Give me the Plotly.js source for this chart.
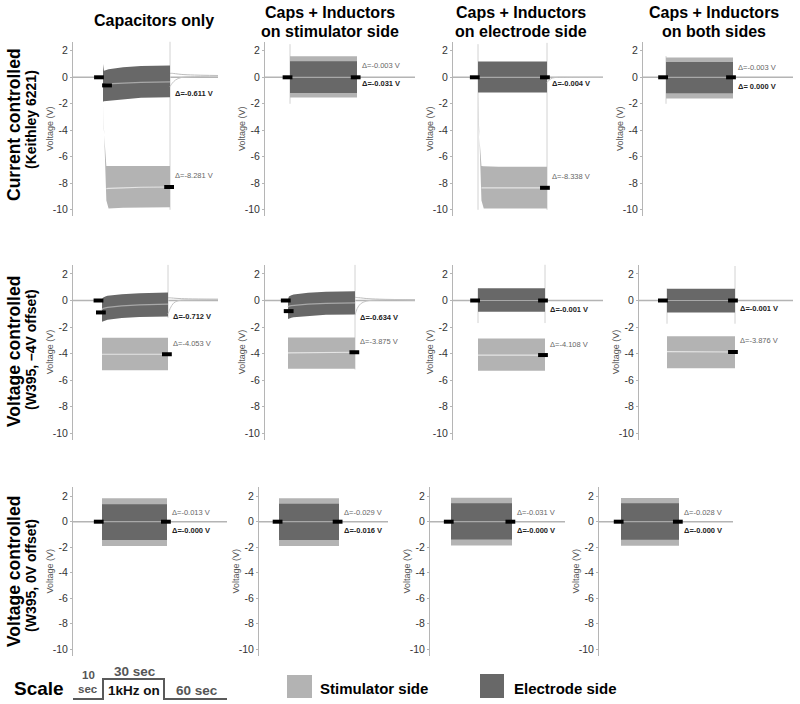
<!DOCTYPE html>
<html><head><meta charset="utf-8">
<script src="https://cdn.plot.ly/plotly-3.0.1.min.js"></script>
<style>html,body{margin:0;padding:0;background:#fff}#chart{width:800px;height:704px}</style>
</head><body><div id="chart"></div>
<script>
// ================= DATA =================
const colTitles = [["Capacitors only"], ["Caps + Inductors", "on stimulator side"], ["Caps + Inductors", "on electrode side"], ["Caps + Inductors", "on both sides"]];
const rowTitles = [["Current controlled", "(Keithley 6221)"], ["Voltage controlled", "(W395, \u20134V offset)"], ["Voltage controlled", "(W395, 0V offset)"]];
const yTitle = "Voltage (V)";
const yTickVals = [2, 0, -2, -4, -6, -8, -10];
const yTickText = ["2", "0", "-2", "-4", "-6", "-8", "-10"];
const tOn = 11, tOff = 41;                 // s : 1 kHz on / off
const tBand = [11, 11.4, 12.5, 13.5, 20, 28, 41];
const tTail = [41, 42, 43.5, 46, 52, 70];
const tBase = [-10, 80];

// panels in row-major order (3 rows x 4 columns)
const stimTop = [
  [-1.8, -4.0, -6.7, -6.7, -6.7, -6.7, -6.7], [1.58, 1.58], [-1.2, -4.0, -6.7, -6.72, -6.75, -6.75, -6.75], [1.5, 1.5],
  [-2.8, -2.8], [-2.78, -2.78], [-2.86, -2.86], [-2.7, -2.7],
  [1.83, 1.83], [1.84, 1.84], [1.88, 1.88], [1.86, 1.86]];
const stimBot = [
  [-1.8, -3.6, -9.3, -9.9, -9.85, -9.8, -9.8], [-1.52, -1.52], [-1.2, -3.8, -9.3, -9.9, -9.9, -9.9, -9.9], [-1.6, -1.6],
  [-5.25, -5.25], [-5.15, -5.15], [-5.3, -5.3], [-5.1, -5.1],
  [-1.9, -1.9], [-1.9, -1.9], [-1.86, -1.86], [-1.88, -1.88]];
const stimMean = [
  [null, null, -8.4, -8.38, -8.35, -8.3, -8.28], [0, 0], [null, null, -8.35, -8.35, -8.35, -8.34, -8.34], [0, 0],
  [-4.05, -4.05], [-3.95, -3.9], [-4.12, -4.11], [-3.85, -3.88],
  [0, 0], [0, 0], [0, 0], [0, 0]];
const elecTop = [
  [1.0, 0.5, 0.55, 0.6, 0.75, 0.85, 0.9], [1.22, 1.22], [1.2, 1.2], [1.15, 1.15],
  [0.05, 0.2, 0.3, 0.35, 0.48, 0.55, 0.6], [0.1, 0.3, 0.4, 0.45, 0.58, 0.65, 0.7], [0.92, 0.92], [0.88, 0.88],
  [1.36, 1.36], [1.4, 1.4], [1.45, 1.45], [1.45, 1.45]];
const elecBot = [
  [-1.85, -1.8, -1.75, -1.72, -1.65, -1.55, -1.5], [-1.18, -1.18], [-1.15, -1.15], [-1.2, -1.2],
  [-1.6, -1.58, -1.5, -1.45, -1.32, -1.25, -1.2], [-1.4, -1.35, -1.3, -1.26, -1.15, -1.08, -1.05], [-0.85, -0.85], [-0.9, -0.9],
  [-1.44, -1.44], [-1.44, -1.44], [-1.4, -1.4], [-1.42, -1.42]];
const elecMean = [
  [-0.6, -0.55, -0.5, -0.49, -0.42, -0.38, -0.35], [0, 0], [0, 0], [0, 0],
  [-0.7, -0.6, -0.55, -0.52, -0.4, -0.33, -0.28], [-0.5, -0.42, -0.38, -0.36, -0.27, -0.22, -0.18], [0, 0], [0, 0],
  [0, 0], [0, 0], [0, 0], [0, 0]];
const tailHi = [
  [0.3, 0.3, 0.27, 0.22, 0.17, 0.12], null, null, null,
  [0.2, 0.2, 0.18, 0.15, 0.12, 0.1], [0.25, 0.22, 0.2, 0.15, 0.1, 0.05], null, null,
  null, null, null, null];
const tailLo = [
  [-0.7, -0.45, -0.2, -0.02, 0.05, 0.1], null, [-0.4, -0.2, -0.05, 0, 0, 0], null,
  [-1.0, -0.6, -0.2, 0, 0.05, 0.08], [-1.1, -0.6, -0.25, -0.05, 0.05, 0.05], null, null,
  null, null, null, null];
const spikeOn = [null, [-2.0, 2.5], [-10, 2.5], [-2.0, 1.6], null, null, [-1.7, 0.9], [-1.75, 0.9], null, null, null, null];
const spikeOff = [[-10, 2.7], null, [-10, 2.6], null, [-1.3, 2.7], [-5.2, 2.7], [-1.7, 2.8], [-1.75, 2.6], null, null, null, null];
const markT = [
  [9.2, 12.8, 40.6], [9.9, 40.4], [9.6, 40.1, 40.1], [9.7, 40.1],
  [9.4, 10.5, 40.5], [10.0, 11.3, 40.7], [9.7, 40.1, 40.1], [9.2, 40.1, 40.1],
  [9.5, 40.5], [10.3, 40.3], [9.9, 40.2], [9.8, 40.4]];
const markV = [
  [0, -0.61, -8.28], [0, 0], [0, 0, -8.34], [0, 0],
  [0, -0.9, -4.05], [0, -0.8, -3.9], [0, 0, -4.11], [0, 0, -3.88],
  [0, 0], [0, 0], [0, 0], [0, 0]];
const elecDelta = ["\u0394=-0.611 V", "\u0394=-0.031 V", "\u0394=-0.004 V", "\u0394= 0.000 V",
  "\u0394=-0.712 V", "\u0394=-0.634 V", "\u0394=-0.001 V", "\u0394=-0.001 V",
  "\u0394=-0.000 V", "\u0394=-0.016 V", "\u0394=-0.000 V", "\u0394=-0.000 V"];
const stimDelta = ["\u0394=-8.281 V", "\u0394=-0.003 V", "\u0394=-8.338 V", "\u0394=-0.003 V",
  "\u0394=-4.053 V", "\u0394=-3.875 V", "\u0394=-4.108 V", "\u0394=-3.876 V",
  "\u0394=-0.013 V", "\u0394=-0.029 V", "\u0394=-0.031 V", "\u0394=-0.028 V"];
const legendNames = ["Stimulator side", "Electrode side"];
const scaleTexts = ["Scale", "10", "sec", "30 sec", "1kHz on", "60 sec"];

// ================= LAYOUT / STYLE =================
const W = 800, H = 704;
const FONT = "'Liberation Sans', Arial, sans-serif";
const C_STIM = "#b3b3b3", C_ELEC = "#686868";
// pixel geometry per panel: [axisX, bandStart, bandEnd, xEnd]
const panelPx = [
  [73, 103, 170, 218], [265, 290, 357, 415], [453, 478, 547, 603], [643, 666, 733, 793],
  [73, 102, 168, 218], [265, 288, 355, 415], [453, 478, 545, 603], [639, 667, 735, 793],
  [73, 102, 167, 227], [259, 279, 339, 388], [430, 451, 512, 565], [599, 621, 679, 733]];
// per row: [pixel of y=0, px per volt]
const rowPx = [[77.3, 13.25], [300.5, 13.27], [521.7, 12.75]];
const yRange = [-10.5, 2.7];
const elecLabelY = [-1.2, -0.5, -0.45, -0.7, -1.2, -1.25, -0.68, -0.63, -0.7, -0.68, -0.7, -0.7];
const stimLabelY = [-7.4, 0.9, -7.45, 0.75, -3.25, -3.1, -3.3, -3.05, 0.7, 0.76, 0.75, 0.75];

const px = x => x / W, py = y => 1 - y / H;
const traces = [];
const layout = {
  width: W, height: H, margin: {l: 0, r: 0, t: 0, b: 0},
  paper_bgcolor: "#fff", plot_bgcolor: "rgba(0,0,0,0)", showlegend: false,
  font: {family: FONT}, annotations: [], shapes: []
};

function band(top, bot) {
  const tb = top.length === 2 ? [tOn, tOff] : tBand;
  return {x: tb.concat(tb.slice().reverse()), y: top.concat(bot.slice().reverse())};
}
function tOf(arr) { return arr.length === 2 ? [tOn, tOff] : tBand; }

for (let p = 0; p < 12; p++) {
  const r = Math.floor(p / 4);
  const n = p === 0 ? "" : String(p + 1);
  const xa = "x" + n, ya = "y" + n;
  const [ax, bs, be, xe] = panelPx[p];
  const sc = (be - bs) / (tOff - tOn);
  const rmin = tOn - (bs - ax) / sc, rmax = tOn + (xe - bs) / sc;
  const [y0, s] = rowPx[r];
  const topPx = y0 - yRange[1] * s, botPx = y0 - yRange[0] * s;
  layout["xaxis" + n] = {domain: [px(ax), px(xe)], range: [rmin, rmax], visible: false, anchor: ya, fixedrange: true};
  layout["yaxis" + n] = {
    domain: [py(botPx), py(topPx)], range: yRange, anchor: xa, fixedrange: true,
    showline: true, linecolor: "#b5b5b5", linewidth: 1, ticks: "outside", ticklen: 2, tickcolor: "#b5b5b5",
    tickvals: yTickVals, ticktext: yTickText, tickfont: {size: 10.5, color: "#333", family: FONT},
    showgrid: false, zeroline: false
  };
  // axis title as annotation (placed just left of the tick labels)
  layout.annotations.push({xref: "paper", yref: ya, x: px(ax - 23), y: (yRange[0] + yRange[1]) / 2, xanchor: "center", yanchor: "middle",
    text: yTitle, textangle: -90, showarrow: false, font: {size: 9, color: "#555", family: FONT}});
  const common = {xaxis: xa, yaxis: ya, hoverinfo: "skip", showlegend: false};
  // baseline
  traces.push(Object.assign({type: "scatter", mode: "lines", x: tBase, y: [0, 0], line: {color: "#b4b4b4", width: 1.5}}, common));
  // transient spikes
  if (spikeOn[p]) traces.push(Object.assign({type: "scatter", mode: "lines", x: [tOn, tOn], y: spikeOn[p], line: {color: "#d2d2d2", width: 1}}, common));
  if (spikeOff[p]) traces.push(Object.assign({type: "scatter", mode: "lines", x: [tOff, tOff], y: spikeOff[p], line: {color: "#d2d2d2", width: 1}}, common));
  // stimulator side band
  const sb = band(stimTop[p], stimBot[p]);
  traces.push(Object.assign({type: "scatter", mode: "lines", x: sb.x, y: sb.y, fill: "toself", fillcolor: C_STIM, line: {width: 0, color: C_STIM}}, common));
  traces.push(Object.assign({type: "scatter", mode: "lines", x: tOf(stimMean[p]), y: stimMean[p], line: {color: "#e4e4e4", width: 1.2}}, common));
  // electrode side band
  const eb = band(elecTop[p], elecBot[p]);
  traces.push(Object.assign({type: "scatter", mode: "lines", x: eb.x, y: eb.y, fill: "toself", fillcolor: C_ELEC, line: {width: 0, color: C_ELEC}}, common));
  traces.push(Object.assign({type: "scatter", mode: "lines", x: tOf(elecMean[p]), y: elecMean[p], line: {color: "#a8a8a8", width: 1.2}}, common));
  // recovery tails
  if (tailHi[p]) traces.push(Object.assign({type: "scatter", mode: "lines", x: tTail, y: tailHi[p], line: {color: "#bdbdbd", width: 1, shape: "spline"}}, common));
  if (tailLo[p]) traces.push(Object.assign({type: "scatter", mode: "lines", x: tTail, y: tailLo[p], line: {color: "#c4c4c4", width: 1, shape: "spline"}}, common));
  // markers
  traces.push(Object.assign({type: "scatter", mode: "markers", x: markT[p], y: markV[p], cliponaxis: false,
    marker: {symbol: "line-ew", size: 7, color: "#000", line: {width: 4, color: "#000"}}}, common));
  // delta labels
  layout.annotations.push({xref: xa, yref: ya, x: tOff, y: stimLabelY[p], xshift: 3, xanchor: "left", yanchor: "middle",
    text: stimDelta[p], showarrow: false, font: {size: 7.5, color: "#666", family: FONT}});
  layout.annotations.push({xref: xa, yref: ya, x: tOff, y: elecLabelY[p], xshift: 3, xanchor: "left", yanchor: "middle",
    text: "<b>" + elecDelta[p] + "</b>", showarrow: false, font: {size: 7.5, color: "#222", family: FONT}});
}

function ann(x, y, text, size, color, extra) {
  layout.annotations.push(Object.assign({xref: "paper", yref: "paper", x: px(x), y: py(y), xanchor: "center", yanchor: "middle",
    text: text, showarrow: false, font: {size: size, color: color, family: FONT}}, extra || {}));
}
// column titles
const colCenters = [154, 330, 521, 714];
colTitles.forEach((lines, c) => {
  if (lines.length === 1) ann(colCenters[c], 21, "<b>" + lines[0] + "</b>", 16, "#000");
  else { ann(colCenters[c], 12, "<b>" + lines[0] + "</b>", 16, "#000"); ann(colCenters[c], 31, "<b>" + lines[1] + "</b>", 16, "#000"); }
});
// row titles
const rowCenters = [[125, 120], [352, 350], [572, 576]];
rowTitles.forEach((lines, r) => {
  ann(14, rowCenters[r][0], "<b>" + lines[0] + "</b>", 17.5, "#000", {textangle: -90});
  ann(31, rowCenters[r][1], "<b>" + lines[1] + "</b>", 14, "#000", {textangle: -90});
});
// scale bar
ann(39, 688, "<b>" + scaleTexts[0] + "</b>", 19, "#000");
ann(88, 675, "<b>" + scaleTexts[1] + "</b>", 11.5, "#555");
ann(88, 689, "<b>" + scaleTexts[2] + "</b>", 11.5, "#555");
ann(135, 671, "<b>" + scaleTexts[3] + "</b>", 13.5, "#555");
ann(134, 690, "<b>" + scaleTexts[4] + "</b>", 13.5, "#111");
ann(197, 690, "<b>" + scaleTexts[5] + "</b>", 13.5, "#555");
const pathPts = [[73, 699], [103, 699], [103, 679], [164, 679], [164, 699], [227, 699]];
layout.shapes.push({type: "path", xref: "paper", yref: "paper",
  path: pathPts.map((q, i) => (i ? "L" : "M") + px(q[0]) + "," + py(q[1])).join(" "),
  line: {color: "#5a5a5a", width: 2}});
// legend swatches
layout.shapes.push({type: "rect", xref: "paper", yref: "paper", x0: px(287), x1: px(312), y0: py(698), y1: py(675), fillcolor: C_STIM, line: {width: 0}});
layout.shapes.push({type: "rect", xref: "paper", yref: "paper", x0: px(480), x1: px(504), y0: py(698), y1: py(674), fillcolor: C_ELEC, line: {width: 0}});
ann(318, 688, "<b>" + legendNames[0] + "</b>", 15, "#000", {xanchor: "left"});
ann(512, 688, "<b>" + legendNames[1] + "</b>", 15, "#000", {xanchor: "left"});

Plotly.newPlot("chart", traces, layout, {staticPlot: true, displayModeBar: false});
</script>
</body></html>
